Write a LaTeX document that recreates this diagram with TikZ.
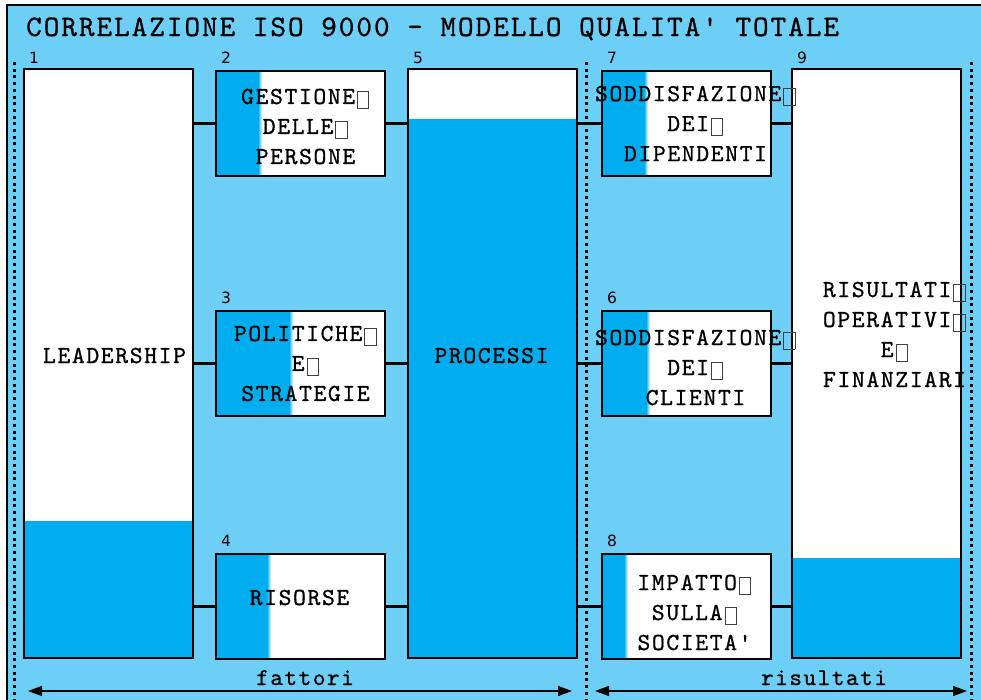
\documentclass[tikz,border=0pt]{standalone}
\usepackage{fontspec}
\setsansfont{DejaVu Sans}
\newfontfamily\cour{lmmono10-regular.otf}[LetterSpace=6.5, FakeBold=0.8]
\usetikzlibrary{positioning,arrows.meta}
\definecolor{skyb}{HTML}{6DCFF6}
\definecolor{cyb}{HTML}{00AEEF}
\newcommand\tofu{\makebox[14.7pt][l]{\hspace{2pt}\raisebox{-4pt}{\color{black!75}\setlength\fboxsep{0pt}\setlength\fboxrule{0.8pt}\fbox{\rule{0pt}{16.5pt}\rule{10.5pt}{0pt}}}}}

\begin{document}
\begin{tikzpicture}[
  x=1pt, y=-1pt,
  box/.style={draw=black, line width=2pt, fill=white, minimum width=169pt, inner sep=0pt},
  small/.style={box, minimum height=105pt},
  tall/.style={box, minimum height=589pt},
  lpart/.style={path picture={
    \fill[cyb] (path picture bounding box.south west) rectangle ([xshift=#1]path picture bounding box.north west);
    \shade[left color=cyb, right color=white] ([xshift=#1]path picture bounding box.south west) rectangle ([xshift=#1+4pt]path picture bounding box.north west);}},
  bpart/.style={path picture={
    \fill[cyb] (path picture bounding box.south west) rectangle ([yshift=#1]path picture bounding box.south east);}},
  txt/.style={font=\cour\fontsize{24.5}{30}\selectfont, align=center, inner sep=0pt},
  num/.style={font=\sffamily\fontsize{15.5}{18}\selectfont, inner sep=0pt, anchor=base west},
  link/.style={line width=2.5pt},
  sep/.style={line width=3pt, dash pattern=on 3pt off 3.7pt},
  >={Triangle[length=14pt,width=10pt]},
  dim/.style={<->, line width=1.3pt}
]
\useasboundingbox[fill=white] (0,0) rectangle (981,699);
\draw[line width=2pt, fill=skyb] (7,5) rectangle (995,715);
\node[font=\cour\fontsize{29.8}{34}\selectfont, anchor=base west, inner sep=0pt] (title) at (26,36)
  {CORRELAZIONE ISO 9000 - MODELLO QUALITA' TOTALE};

% ---------------------------------------------------------------- separators
\draw[sep] (14,62) -- (14,699);
\draw[sep] (586,62) -- (586,699);
\draw[sep] (971,62) -- (971,699);

% ---------------------------------------------------------------- fattori
\node[tall, bpart=137pt, anchor=north west] (ldr) at (23,68) {};
\node[small, lpart=42pt, right=21pt of ldr.north east, anchor=north west, yshift=-2pt] (ges) {};
\node[small, lpart=73pt, below=133pt of ges.south west, anchor=north west] (pol) {};
\node[small, lpart=51pt, below=136pt of pol.south west, anchor=north west] (res) {};
\node[tall, bpart=539pt, right=21pt of ges.north east, anchor=north west, yshift=2pt] (proc) {};

% ---------------------------------------------------------------- risultati
\node[small, lpart=42pt, right=23pt of proc.north east, anchor=north west, yshift=-2pt] (dip) {};
\node[small, lpart=44pt, below=133pt of dip.south west, anchor=north west] (cli) {};
\node[small, lpart=22pt, below=136pt of cli.south west, anchor=north west] (imp) {};
\node[tall, bpart=100pt, right=19pt of dip.north east, anchor=north west, yshift=2pt] (ris) {};

% box texts
\node[txt] (ldr-t) at ([xshift=6pt,yshift=8pt]ldr.center) {LEADERSHIP};
\node[txt] (ges-t) at ([xshift=5pt,yshift=-3pt]ges.center) {GESTIONE\tofu\\DELLE\tofu\\PERSONE};
\node[txt] (pol-t) at ([xshift=5pt]pol.center) {POLITICHE\tofu\\E\tofu\\STRATEGIE};
\node[txt] (res-t) at ([xshift=-1pt,yshift=9pt]res.center) {RISORSE};
\node[txt] (proc-t) at ([xshift=-1pt,yshift=8pt]proc.center) {PROCESSI};
\node[txt] (dip-t) at ([xshift=9pt]dip.center) {SODDISFAZIONE\tofu\\DEI\tofu\\DIPENDENTI};
\node[txt] (cli-t) at ([xshift=9pt,yshift=-4pt]cli.center) {SODDISFAZIONE\tofu\\DEI\tofu\\CLIENTI};
\node[txt] (imp-t) at ([xshift=8pt,yshift=-6pt]imp.center) {IMPATTO\tofu\\SULLA\tofu\\SOCIETA'};
\node[txt] (ris-t) at ([xshift=18pt,yshift=29pt]ris.center) {RISULTATI\tofu\\OPERATIVI\tofu\\E\tofu\\FINANZIARI};

% numbers
\node[num] (n1) at ([xshift=6pt,yshift=5pt]ldr.north west) {1};
\node[num] (n2) at ([xshift=6pt,yshift=7pt]ges.north west) {2};
\node[num] (n3) at ([xshift=6pt,yshift=7pt]pol.north west) {3};
\node[num] (n4) at ([xshift=6pt,yshift=7pt]res.north west) {4};
\node[num] (n5) at ([xshift=6pt,yshift=5pt]proc.north west) {5};
\node[num] (n7) at ([xshift=6pt,yshift=7pt]dip.north west) {7};
\node[num] (n6) at ([xshift=6pt,yshift=7pt]cli.north west) {6};
\node[num] (n8) at ([xshift=6pt,yshift=7pt]imp.north west) {8};
\node[num] (n9) at ([xshift=6pt,yshift=5pt]ris.north west) {9};

% connectors
\foreach \l/\r in {ges/dip, pol/cli, res/imp}{
  \draw[link] (ldr.east |- \l.west) -- (\l.west);
  \draw[link] (\l.east) -- (proc.west |- \l.east);
  \draw[link] (proc.east |- \r.west) -- (\r.west);
  \draw[link] (\r.east) -- (ris.west |- \r.east);
}

% ---------------------------------------------------------------- spans
\coordinate (fa1) at (28,691);
\coordinate (fa2) at (572,691);
\coordinate (ri1) at (595,691);
\coordinate (ri2) at (967,691);
\draw[dim] (fa1) -- (fa2);
\draw[dim] (ri1) -- (ri2);
\node[font=\cour\fontsize{24}{28}\selectfont, anchor=base, inner sep=0pt] (fat) at (305,685) {fattori};
\node[font=\cour\fontsize{24}{28}\selectfont, anchor=base, inner sep=0pt] (rst) at (824,685) {risultati};
\end{tikzpicture}
\end{document}
